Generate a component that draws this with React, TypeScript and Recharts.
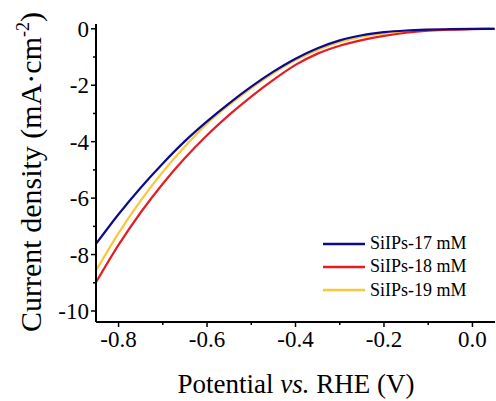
import React from 'react';
import { LineChart, Line, XAxis, YAxis, Legend } from 'recharts';

const potential = [-0.85, -0.8, -0.75, -0.7, -0.65, -0.6, -0.55, -0.5, -0.45, -0.4, -0.35, -0.3, -0.25, -0.2, -0.15, -0.1, -0.05, 0, 0.05];
const j17 = [-7.6, -6.57, -5.63, -4.77, -3.98, -3.28, -2.64, -2.05, -1.52, -1.06, -0.69, -0.41, -0.23, -0.12, -0.06, -0.03, -0.013, -0.005, 0];
const j18 = [-8.96, -7.66, -6.51, -5.49, -4.58, -3.77, -3.05, -2.4, -1.81, -1.28, -0.88, -0.6, -0.4, -0.25, -0.14, -0.07, -0.03, -0.01, 0];
const j19 = [-8.54, -7.24, -6.09, -5.07, -4.17, -3.36, -2.7, -2.1, -1.57, -1.11, -0.75, -0.47, -0.28, -0.16, -0.085, -0.04, -0.018, -0.007, 0];

const xTicks = [-0.8, -0.7, -0.6, -0.5, -0.4, -0.3, -0.2, -0.1, 0];
const yTicks = [0, -1, -2, -3, -4, -5, -6, -7, -8, -9, -10];

const series = [
  { key: 's17', name: 'SiIPs-17 mM', color: '#0b0b8e' },
  { key: 's18', name: 'SiIPs-18 mM', color: '#e41d23' },
  { key: 's19', name: 'SiIPs-19 mM', color: '#fcc63a' },
];

const data = potential.map((p, i) => ({ p, s17: j17[i], s18: j18[i], s19: j19[i] }));

const FONT = 'Liberation Serif';

const XTick = ({ x, y, payload }: any) => {
  const v = payload.value as number;
  const major = Math.abs(Math.round(v * 10)) % 2 === 0;
  return (
    <g>
      <line x1={x} y1={y} x2={x} y2={y + (major ? 5 : 3)} stroke="#000" strokeWidth={1.5} />
      {major && (
        <text x={x} y={y + 25} textAnchor="middle" style={{ fontFamily: FONT, fontSize: 23 }} fill="#000">
          {v.toFixed(1)}
        </text>
      )}
    </g>
  );
};

const YTick = ({ x, y, payload }: any) => {
  const v = payload.value as number;
  const major = Math.abs(v) % 2 === 0;
  return (
    <g>
      <line x1={x} y1={y} x2={x - (major ? 5 : 3)} y2={y} stroke="#000" strokeWidth={1.5} />
      {major && (
        <text x={x - 7} y={y} dy="0.35em" textAnchor="end" style={{ fontFamily: FONT, fontSize: 23 }} fill="#000">
          {String(v)}
        </text>
      )}
    </g>
  );
};

const YLabel = () => (
  <text transform="translate(41,172) rotate(-90)" textAnchor="middle" style={{ fontFamily: FONT, fontSize: 30 }} fill="#000">
    Current density (mA·cm
    <tspan style={{ fontSize: 18 }} dy={-12}>-2</tspan>
    <tspan dy={12}>)</tspan>
  </text>
);

const XLabel = () => (
  <text x={296} y={393} textAnchor="middle" style={{ fontFamily: FONT, fontSize: 27 }} fill="#000">
    Potential <tspan fontStyle="italic">vs.</tspan> RHE (V)
  </text>
);

const LegendBox = () => (
  <div style={{ fontFamily: FONT, fontSize: 18, color: '#000' }}>
    {series.map(s => (
      <div key={s.key} style={{ display: 'flex', alignItems: 'center', height: 23.3 }}>
        <svg width={42} height={4} style={{ marginRight: 5 }}>
          <line x1={0} y1={2} x2={42} y2={2} stroke={s.color} strokeWidth={2.5} />
        </svg>
        <span>{s.name}</span>
      </div>
    ))}
  </div>
);

export default function App() {
  return (
    <div style={{ position: 'absolute', left: 0, top: 0, width: 496, height: 401, background: '#fff' }}>
      <LineChart width={496} height={401} data={data} margin={{ top: 24, right: 1, left: 0, bottom: 0 }}>
        <XAxis
          dataKey="p"
          type="number"
          domain={[-0.851, 0.051]}
          ticks={xTicks}
          interval={0}
          height={79}
          tickSize={0}
          tickMargin={0}
          tickLine={false}
          tick={<XTick />}
          axisLine={{ stroke: '#000', strokeWidth: 2 }}
          label={<XLabel />}
          allowDataOverflow
        />
        <XAxis xAxisId="top" orientation="top" type="number" domain={[-0.851, 0.051]} height={0} tick={false} tickLine={false} axisLine={{ stroke: '#000', strokeWidth: 2 }} />
        <YAxis
          type="number"
          domain={[-10.39, 0.17]}
          ticks={yTicks}
          interval={0}
          width={96}
          tickSize={0}
          tickMargin={0}
          tickLine={false}
          tick={<YTick />}
          axisLine={{ stroke: '#000', strokeWidth: 2 }}
          label={<YLabel />}
          allowDataOverflow
        />
        <YAxis yAxisId="right" orientation="right" type="number" domain={[-10.39, 0.17]} width={0} tick={false} tickLine={false} axisLine={{ stroke: '#000', strokeWidth: 2 }} />
        <Line dataKey="s19" name="SiIPs-19 mM" type="monotone" stroke="#fcc63a" strokeWidth={2.2} dot={false} isAnimationActive={false} />
        <Line dataKey="s18" name="SiIPs-18 mM" type="monotone" stroke="#e41d23" strokeWidth={2.2} dot={false} isAnimationActive={false} />
        <Line dataKey="s17" name="SiIPs-17 mM" type="monotone" stroke="#0b0b8e" strokeWidth={2.2} dot={false} isAnimationActive={false} />
        <Legend
          layout="vertical"
          verticalAlign="middle"
          align="center"
          content={<LegendBox />}
          wrapperStyle={{ position: 'absolute', left: 323, top: 232, width: 160 }}
        />
      </LineChart>
    </div>
  );
}
